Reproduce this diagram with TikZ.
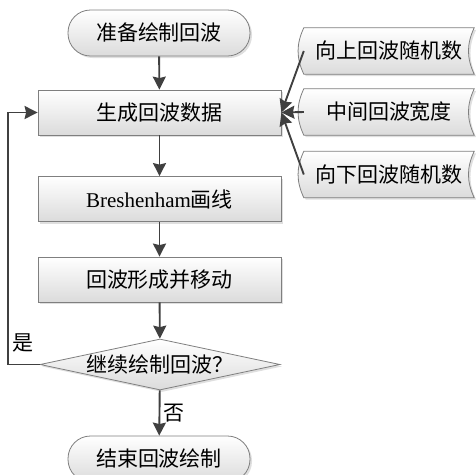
\documentclass[tikz,border=0pt]{standalone}
\usepackage{fontspec}
\setmainfont{Liberation Serif}
\newfontfamily\cjk{Noto Sans CJK SC}
\usetikzlibrary{shapes.geometric,arrows.meta,shadows}
\pgfdeclarelayer{bg}
\pgfsetlayers{bg,main}
\definecolor{lineCol}{HTML}{404040}
\definecolor{boxCol}{HTML}{7F7F7F}
\tikzstyle{boxShade} = [draw=boxCol, line width=0.8pt, top color=white,
    bottom color=black!14,
    drop shadow={opacity=0.25, shadow xshift=2pt, shadow yshift=-2pt}]
\tikzstyle{txt} = [font=\cjk\fontsize{21}{24}\selectfont, inner sep=0pt]
\tikzstyle{procNode} = [boxShade, txt, rectangle,
    minimum width=243pt, minimum height=45pt]
\tikzstyle{termNode} = [boxShade, txt, rectangle, rounded corners=22.5pt,
    minimum width=182pt, minimum height=46pt]
\tikzstyle{decNode} = [boxShade, txt, diamond, aspect=4.7,
    minimum width=240pt, minimum height=51pt]
\tikzstyle{dataNode} = [txt, rectangle, minimum width=170pt, minimum height=46pt]
\tikzstyle{arr} = [draw=lineCol, line width=1.9pt,
    -{Stealth[length=13pt, width=13pt, inset=1.5pt]}]
\newcommand{\datashape}[1]{
  \begin{pgfonlayer}{bg}
  \draw[boxShade] (#1.north east) -- (#1.north west)
    to[bend right=25] (#1.south west) -- (#1.south east)
    to[bend left=25] (#1.north east) -- cycle;
  \end{pgfonlayer}
}

\begin{document}
\begin{tikzpicture}[x=1pt,y=-1pt]
\useasboundingbox (0,0) rectangle (475,475);
\clip (0,0) rectangle (475,475);

% main flow
\node[termNode] (start) at (159,33) {准备绘制回波};
\node[procNode] (gen) at (159.5,112.5) {生成回波数据};
\node[procNode] (bres) at (159.5,199) {{\rmfamily Breshenham}画线};
\node[procNode] (move) at (159.5,279.5) {回波形成并移动};
\node[decNode] (cond) at (160,364.5) {继续绘制回波？};
\node[termNode] (stop) at (159,459) {结束回波绘制};

% inputs
\node[dataNode] (up) at (389,51) {向上回波随机数};
\node[dataNode] (mid) at (389,112) {中间回波宽度};
\node[dataNode] (down) at (389,174.5) {向下回波随机数};
\datashape{up}
\datashape{mid}
\datashape{down}

\draw[arr] (start) -- (gen);
\draw[arr] (gen) -- (bres);
\draw[arr] (bres) -- (move);
\draw[arr] (move) -- (cond);
\draw[arr] (cond) -- (stop) node[txt, midway, right=3pt] (no) {否};

\coordinate (back) at (8,364.5);
\draw[arr] (cond.west) -- (back) |- (gen.west);
\node[txt] (yes) at (23,343) {是};

\draw[arr] (up.west) -- (gen.east);
\draw[arr] (mid.west) -- (gen.east);
\draw[arr] (down.west) -- (gen.east);

\end{tikzpicture}
\end{document}
